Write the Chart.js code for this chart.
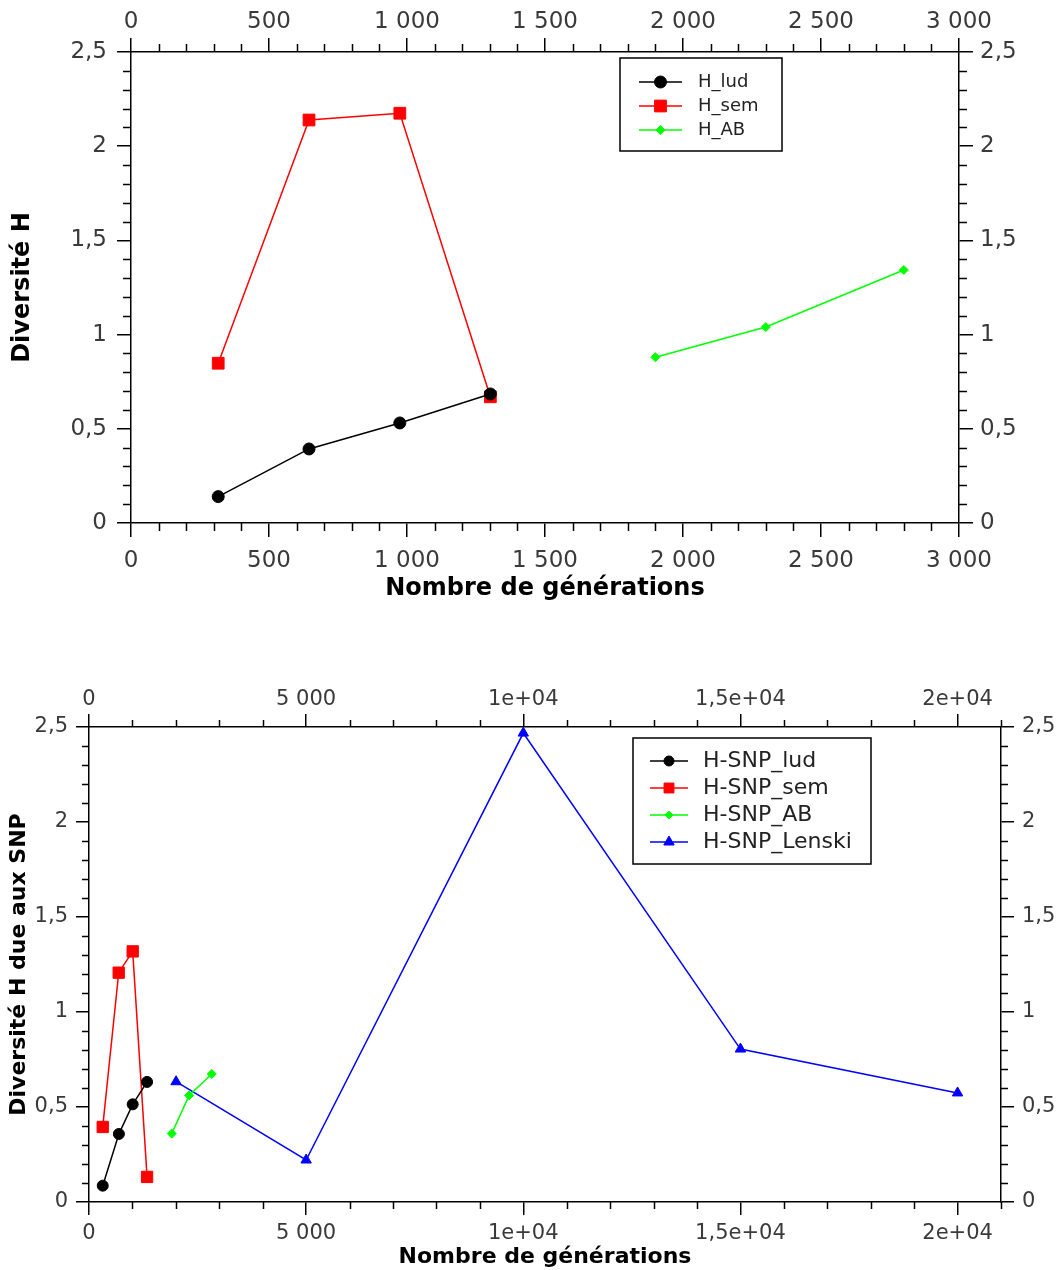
<!DOCTYPE html>
<html>
<head>
<meta charset="utf-8">
<script src="https://cdn.jsdelivr.net/npm/chart.js@4/dist/chart.umd.min.js"></script>
<style>
  body { margin: 0; background: #fff; }
  canvas { display: block; }
</style>
</head>
<body>
<canvas id="chartH" width="1056" height="620"></canvas>
<canvas id="chartSnp" width="1056" height="650"></canvas>
<script>
// --- graphe du haut : diversité H
const genLud = [316, 645, 974, 1302];
const hLud = [0.14, 0.393, 0.531, 0.685];
const genSem = [316, 645, 974, 1302];
const hSem = [0.848, 2.139, 2.175, 0.67];
const genAB = [1900, 2300, 2800];
const hAB = [0.88, 1.04, 1.343];

// --- graphe du bas : diversité H due aux SNP
const snpGenLud = [316, 688, 1006, 1337];
const snpLud = [0.086, 0.358, 0.514, 0.632];
const snpGenSem = [316, 684, 1006, 1337];
const snpSem = [0.395, 1.207, 1.319, 0.132];
const snpGenAB = [1905, 2305, 2827];
const snpAB = [0.36, 0.561, 0.674];
const snpGenLenski = [2005, 5000, 10000, 15000, 20000];
const snpLenski = [0.633, 0.221, 2.468, 0.805, 0.574];

// étiquettes des graduations
const genTicks = ['0', '500', '1 000', '1 500', '2 000', '2 500', '3 000'];
const snpGenTicks = ['0', '5 000', '1e+04', '1,5e+04', '2e+04'];
const hTicks = ['0', '0,5', '1', '1,5', '2', '2,5'];

const FONT = "'DejaVu Sans'";

function pts(xs, ys) {
    return xs.map((x, i) => ({x: x, y: ys[i]}));
}

function serie(label, xs, ys, color, style, radius) {
    return {
        label: label,
        data: pts(xs, ys),
        showLine: true,
        borderColor: color,
        backgroundColor: color,
        borderWidth: 1.5,
        pointStyle: style,
        pointRadius: radius,
        pointHoverRadius: radius,
        pointBorderWidth: 1,
        pointBorderColor: color,
        pointBackgroundColor: color
    };
}

// petites graduations sur les quatre côtés
const minorTicks = {
    id: 'minorTicks',
    afterDraw(chart, args, opts) {
        const {ctx, chartArea: a, scales} = chart;
        ctx.save();
        ctx.strokeStyle = '#000';
        ctx.lineWidth = 1.5;
        ctx.beginPath();
        const sx = scales.x, sy = scales.y;
        let n = Math.round((sx.max - sx.min) / opts.xStep);
        for (let i = 0; i <= n; i++) {
            const v = sx.min + i * opts.xStep;
            if (Math.abs(v / opts.xMajor - Math.round(v / opts.xMajor)) < 1e-6) continue;
            const px = Math.round(sx.getPixelForValue(v)) + 0.5;
            ctx.moveTo(px, a.bottom); ctx.lineTo(px, a.bottom + opts.len);
            ctx.moveTo(px, a.top); ctx.lineTo(px, a.top - opts.len);
        }
        n = Math.round((sy.max - sy.min) / opts.yStep);
        for (let i = 0; i <= n; i++) {
            const v = sy.min + i * opts.yStep;
            if (Math.abs(v / opts.yMajor - Math.round(v / opts.yMajor)) < 1e-6) continue;
            const py = Math.round(sy.getPixelForValue(v)) + 0.5;
            ctx.moveTo(a.left, py); ctx.lineTo(a.left - opts.len, py);
            ctx.moveTo(a.right, py); ctx.lineTo(a.right + opts.len, py);
        }
        ctx.stroke();
        ctx.restore();
    }
};

function drawMarker(ctx, style, x, y, r) {
    ctx.beginPath();
    if (style === 'circle') {
        ctx.arc(x, y, r, 0, Math.PI * 2);
    } else if (style === 'rect') {
        const s = r * Math.SQRT1_2;
        ctx.rect(x - s, y - s, 2 * s, 2 * s);
    } else if (style === 'rectRot') {
        ctx.moveTo(x, y - r); ctx.lineTo(x + r, y); ctx.lineTo(x, y + r); ctx.lineTo(x - r, y);
        ctx.closePath();
    } else if (style === 'triangle') {
        ctx.moveTo(x, y - r);
        ctx.lineTo(x + r * Math.sin(Math.PI / 3), y + r / 2);
        ctx.lineTo(x - r * Math.sin(Math.PI / 3), y + r / 2);
        ctx.closePath();
    }
    ctx.fill();
    ctx.stroke();
}

// légende encadrée dans la zone du graphe
const boxLegend = {
    id: 'boxLegend',
    afterDraw(chart, args, o) {
        const ctx = chart.ctx;
        ctx.save();
        ctx.fillStyle = '#fff';
        ctx.fillRect(o.left, o.top, o.width, o.height);
        ctx.strokeStyle = '#000';
        ctx.lineWidth = 1.5;
        ctx.strokeRect(o.left, o.top, o.width, o.height);
        ctx.font = o.fontSize + 'px ' + FONT;
        ctx.textBaseline = 'middle';
        chart.data.datasets.forEach((ds, i) => {
            const y = o.top + o.firstRow + i * o.rowHeight;
            ctx.strokeStyle = ds.borderColor;
            ctx.fillStyle = ds.borderColor;
            ctx.lineWidth = 1.5;
            ctx.beginPath();
            ctx.moveTo(o.left + o.lineStart, y);
            ctx.lineTo(o.left + o.lineEnd, y);
            ctx.stroke();
            ctx.lineWidth = 1;
            drawMarker(ctx, ds.pointStyle, o.left + (o.lineStart + o.lineEnd) / 2, y, o.markers[i]);
            ctx.fillStyle = '#222';
            ctx.fillText(ds.label, o.left + o.textX, y);
        });
        ctx.restore();
    }
};

function axe(position, min, max, step, labels, fontSize, tickLen, size, pad, extra) {
    const s = {
        type: 'linear',
        position: position,
        min: min,
        max: max,
        border: {display: true, color: '#000', width: 1.5},
        grid: {drawOnChartArea: false, drawTicks: true, tickLength: tickLen, color: '#000', lineWidth: 1.5},
        ticks: {
            autoSkip: false,
            maxRotation: 0,
            color: '#3a3a3a',
            padding: pad,
            font: {family: FONT, size: fontSize},
            callback: (v) => labels[Math.round((v - min) / step)]
        },
        // graduations principales : une tous les "step", sans borne ajoutée
        afterBuildTicks: (scale) => {
            const ticks = [];
            for (let i = 0; i < labels.length; i++) {
                ticks.push({value: min + i * step});
            }
            scale.ticks = ticks;
        },
        afterFit: (scale) => {
            if (position === 'top' || position === 'bottom') {
                scale.height = size;
            } else {
                scale.width = size;
            }
        }
    };
    return Object.assign(s, extra || {});
}

function titre(text, fontSize, padding) {
    return {display: true, text: text, color: '#000', padding: padding,
            font: {family: FONT, size: fontSize, weight: 'bold'}};
}

Chart.defaults.font.family = FONT;

new Chart(document.getElementById('chartH'), {
    type: 'scatter',
    data: {
        datasets: [
            serie('H_lud', genLud, hLud, '#000000', 'circle', 6),
            serie('H_sem', genSem, hSem, '#ff0000', 'rect', 8.3),
            serie('H_AB', genAB, hAB, '#00ff00', 'rectRot', 4.5)
        ]
    },
    options: {
        responsive: false,
        animation: false,
        layout: {padding: 0},
        scales: {
            x: axe('bottom', 0, 3000, 500, genTicks, 23, 14, 97, 10,
                {title: titre('Nombre de générations', 24, {top: 0, bottom: 17})}),
            x2: axe('top', 0, 3000, 500, genTicks, 23, 14, 52, 2),
            y: axe('left', 0, 2.5, 0.5, hTicks, 23, 14, 131, 10,
                {title: titre('Diversité H', 24, {top: 8, bottom: 0})}),
            y2: axe('right', 0, 2.5, 0.5, hTicks, 23, 14, 97, 7)
        },
        plugins: {
            legend: {display: false},
            tooltip: {enabled: false},
            minorTicks: {xStep: 100, xMajor: 500, yStep: 0.1, yMajor: 0.5, len: 8},
            boxLegend: {left: 620, top: 58, width: 162, height: 93, firstRow: 24, rowHeight: 24,
                lineStart: 19, lineEnd: 62, textX: 78, fontSize: 18, markers: [6, 8.3, 4.5]}
        }
    },
    plugins: [minorTicks, boxLegend]
});

new Chart(document.getElementById('chartSnp'), {
    type: 'scatter',
    data: {
        datasets: [
            serie('H-SNP_lud', snpGenLud, snpLud, '#000000', 'circle', 5.5),
            serie('H-SNP_sem', snpGenSem, snpSem, '#ff0000', 'rect', 8),
            serie('H-SNP_AB', snpGenAB, snpAB, '#00ff00', 'rectRot', 4.5),
            serie('H-SNP_Lenski', snpGenLenski, snpLenski, '#0000ff', 'triangle', 6)
        ]
    },
    options: {
        responsive: false,
        animation: false,
        layout: {padding: 0},
        scales: {
            x: axe('bottom', 0, 21000, 5000, snpGenTicks, 21, 13, 68, 6,
                {title: titre('Nombre de générations', 22, {top: 0, bottom: 0})}),
            x2: axe('top', 0, 21000, 5000, snpGenTicks, 21, 13, 107, 2),
            y: axe('left', 0, 2.5, 0.5, hTicks, 21, 13, 89, 8,
                {title: titre('Diversité H due aux SNP', 22, {top: 6, bottom: 0})}),
            y2: axe('right', 0, 2.5, 0.5, hTicks, 21, 13, 55, 8)
        },
        plugins: {
            legend: {display: false},
            tooltip: {enabled: false},
            minorTicks: {xStep: 1000, xMajor: 5000, yStep: 0.1, yMajor: 0.5, len: 7},
            boxLegend: {left: 633, top: 118, width: 238, height: 126, firstRow: 23, rowHeight: 27,
                lineStart: 17, lineEnd: 55, textX: 70, fontSize: 22, markers: [5, 7, 4, 6]}
        }
    },
    plugins: [minorTicks, boxLegend]
});
</script>
</body>
</html>
